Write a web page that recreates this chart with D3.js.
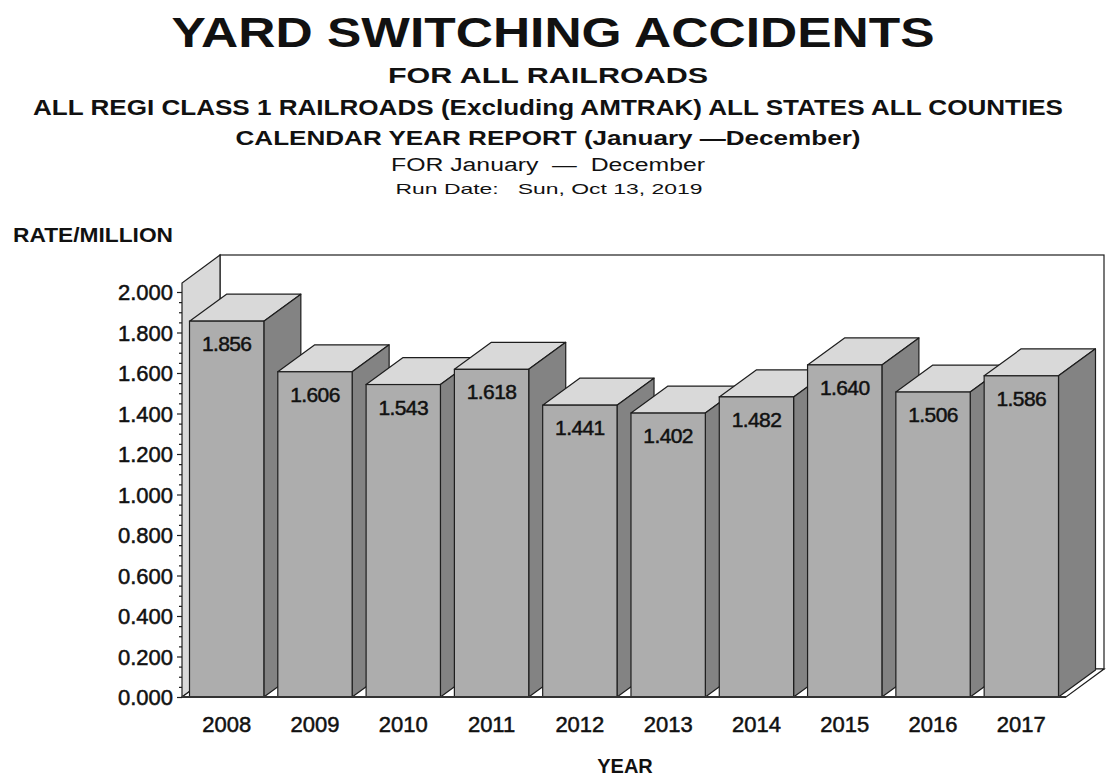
<!DOCTYPE html>
<html>
<head>
<meta charset="utf-8">
<script src="https://cdn.jsdelivr.net/npm/d3@7"></script>
<style>
  body { margin: 0; background: #fff; }
  text { font-family: "Liberation Sans", Arial, sans-serif; fill: #111; white-space: pre; }
</style>
</head>
<body>
<div id="chart"></div>
<script>
const width = 1110;
const height = 783;

// data
const years = ["2008", "2009", "2010", "2011", "2012", "2013", "2014", "2015", "2016", "2017"];
const rates = [1.856, 1.606, 1.543, 1.618, 1.441, 1.402, 1.482, 1.640, 1.506, 1.586];
const yTickValues = [0, 0.2, 0.4, 0.6, 0.8, 1.0, 1.2, 1.4, 1.6, 1.8, 2.0];
const yMinorValues = d3.range(0, 81).map(i => i * 0.025).filter((v, i) => i % 2 === 0 && i % 8 !== 0);

const titleLines = [
  "YARD SWITCHING ACCIDENTS",
  "FOR ALL RAILROADS",
  "ALL REGI CLASS 1 RAILROADS (Excluding AMTRAK) ALL STATES ALL COUNTIES",
  "CALENDAR YEAR REPORT (January \u2014December)",
  "FOR January  \u2014  December",
  "Run Date:   Sun, Oct 13, 2019"
];
// [center x, baseline y, font size, bold, fitted width]
const titleStyle = [
  [553, 47, 43, true, 763],
  [548, 83, 22, true, 320],
  [548, 115, 22, true, 1030],
  [548, 145, 21, true, 625],
  [548, 171, 18, false, 314],
  [549, 194, 15, false, 307]
];

const rows = years.map((year, i) => ({ year: year, rate: rates[i] }));

const frontColor = "#adadad";
const sideColor = "#838383";
const topColor = "#d9d9d9";
const lineColor = "#1e1e1e";

const depth = { dx: 37, dy: -27 };
const wallDepth = { dx: 38, dy: -28 };

let svg = d3.select("#chart")
            .append("svg")
            .attr("width", width)
            .attr("height", height);

const xScale = d3.scaleBand()
                 .domain(years)
                 .range([182, 1066])
                 .paddingInner(0.158)
                 .paddingOuter(0.085);

const yScale = d3.scaleLinear()
                 .domain([0, 2])
                 .range([697, 292]);

function drawTitles() {
  titleLines.forEach((line, i) => {
    const [cx, by, size, bold, w] = titleStyle[i];
    svg.append("text")
       .attr("x", cx - w / 2)
       .attr("y", by)
       .attr("font-size", size)
       .attr("font-weight", bold ? "bold" : "normal")
       .attr("textLength", w)
       .attr("lengthAdjust", "spacingAndGlyphs")
       .text(line);
  });

  svg.append("text")
     .attr("x", 13)
     .attr("y", 242)
     .attr("font-size", 20)
     .attr("font-weight", "bold")
     .attr("textLength", 160)
     .attr("lengthAdjust", "spacingAndGlyphs")
     .text("RATE/MILLION");

  const [x0, x1] = xScale.range();
  svg.append("text")
     .attr("x", (x0 + x1) / 2 + 1)
     .attr("y", 773)
     .attr("text-anchor", "middle")
     .attr("font-size", 20)
     .attr("font-weight", "bold")
     .text("YEAR");
}

function drawFrame() {
  const [x0, x1] = xScale.range();
  const yb = yScale(0);
  const yt = yScale(2) - 9;
  const dx = wallDepth.dx, dy = wallDepth.dy;

  // back wall
  svg.append("rect")
     .attr("x", x0 + dx)
     .attr("y", yt + dy)
     .attr("width", x1 - x0)
     .attr("height", yb - yt)
     .attr("fill", "#fff")
     .attr("stroke", lineColor)
     .attr("stroke-width", 1.2);

  // left wall
  svg.append("polygon")
     .attr("points", [[x0, yb], [x0, yt], [x0 + dx, yt + dy], [x0 + dx, yb + dy]].join(" "))
     .attr("fill", topColor)
     .attr("stroke", lineColor)
     .attr("stroke-width", 1.2);

  // floor
  svg.append("polygon")
     .attr("points", [[x0, yb], [x0 + dx, yb + dy], [x1 + dx, yb + dy], [x1, yb]].join(" "))
     .attr("fill", "#fff")
     .attr("stroke", lineColor)
     .attr("stroke-width", 1.2);
}

function drawBars() {
  const w = xScale.bandwidth();
  const dx = depth.dx, dy = depth.dy;
  const yb = yScale(0);

  const bars = svg.selectAll(".bar")
                  .data(rows)
                  .enter()
                  .append("g")
                  .attr("class", "bar");

  bars.append("polygon")
      .attr("points", d => {
        const x = xScale(d.year), y = yScale(d.rate);
        return [[x, y], [x + dx, y + dy], [x + w + dx, y + dy], [x + w, y]].join(" ");
      })
      .attr("fill", topColor)
      .attr("stroke", lineColor)
      .attr("stroke-width", 1.2)
      .attr("stroke-linejoin", "round");

  bars.append("polygon")
      .attr("points", d => {
        const x = xScale(d.year) + w, y = yScale(d.rate);
        return [[x, y], [x + dx, y + dy], [x + dx, yb + dy], [x, yb]].join(" ");
      })
      .attr("fill", sideColor)
      .attr("stroke", lineColor)
      .attr("stroke-width", 1.2)
      .attr("stroke-linejoin", "round");

  bars.append("rect")
      .attr("x", d => xScale(d.year))
      .attr("y", d => yScale(d.rate))
      .attr("width", w)
      .attr("height", d => yb - yScale(d.rate))
      .attr("fill", frontColor)
      .attr("stroke", lineColor)
      .attr("stroke-width", 1.2);

  bars.append("text")
      .attr("x", d => xScale(d.year) + w / 2)
      .attr("y", d => yScale(d.rate) + 30)
      .attr("text-anchor", "middle")
      .attr("font-size", 21)
      .attr("letter-spacing", -0.6)
      .attr("stroke", "#111")
      .attr("stroke-width", 0.5)
      .text(d => d3.format(".3f")(d.rate));

  // front floor edge
  const [x0, x1] = xScale.range();
  svg.append("line")
     .attr("x1", x0).attr("x2", x1)
     .attr("y1", yb).attr("y2", yb)
     .attr("stroke", "#333")
     .attr("stroke-width", 2);
}

function drawAxes() {
  const x0 = xScale.range()[0];

  const yAxis = d3.axisLeft(yScale)
                  .tickValues(yTickValues)
                  .tickFormat(d3.format(".3f"))
                  .tickSize(5)
                  .tickPadding(4);

  const gy = svg.append("g")
                .attr("id", "y-axis")
                .attr("transform", `translate(${x0}, 0)`)
                .call(yAxis);
  gy.select(".domain").remove();
  gy.selectAll(".tick line").attr("stroke", lineColor).attr("stroke-width", 1.2);
  gy.selectAll(".tick text")
    .attr("font-size", 22)
    .attr("font-family", "Liberation Sans, Arial, sans-serif")
    .attr("fill", "#111")
    .attr("stroke", "#111")
    .attr("stroke-width", 0.5)
    .attr("dy", "0.36em");

  const yMinor = d3.axisLeft(yScale)
                   .tickValues(yMinorValues)
                   .tickFormat("")
                   .tickSize(3);
  const gm = svg.append("g")
                .attr("transform", `translate(${x0}, 0)`)
                .call(yMinor);
  gm.select(".domain").remove();
  gm.selectAll(".tick line").attr("stroke", lineColor).attr("stroke-width", 1.2);

  const xAxis = d3.axisBottom(xScale).tickSize(0).tickPadding(0);
  const gx = svg.append("g")
                .attr("id", "x-axis")
                .attr("transform", `translate(0, ${yScale(0)})`)
                .call(xAxis);
  gx.select(".domain").remove();
  gx.selectAll(".tick text")
    .attr("font-size", 22)
    .attr("font-family", "Liberation Sans, Arial, sans-serif")
    .attr("fill", "#111")
    .attr("stroke", "#111")
    .attr("stroke-width", 0.5)
    .attr("y", 35)
    .attr("dy", 0);
}

drawTitles();
drawFrame();
drawBars();
drawAxes();
</script>
</body>
</html>
